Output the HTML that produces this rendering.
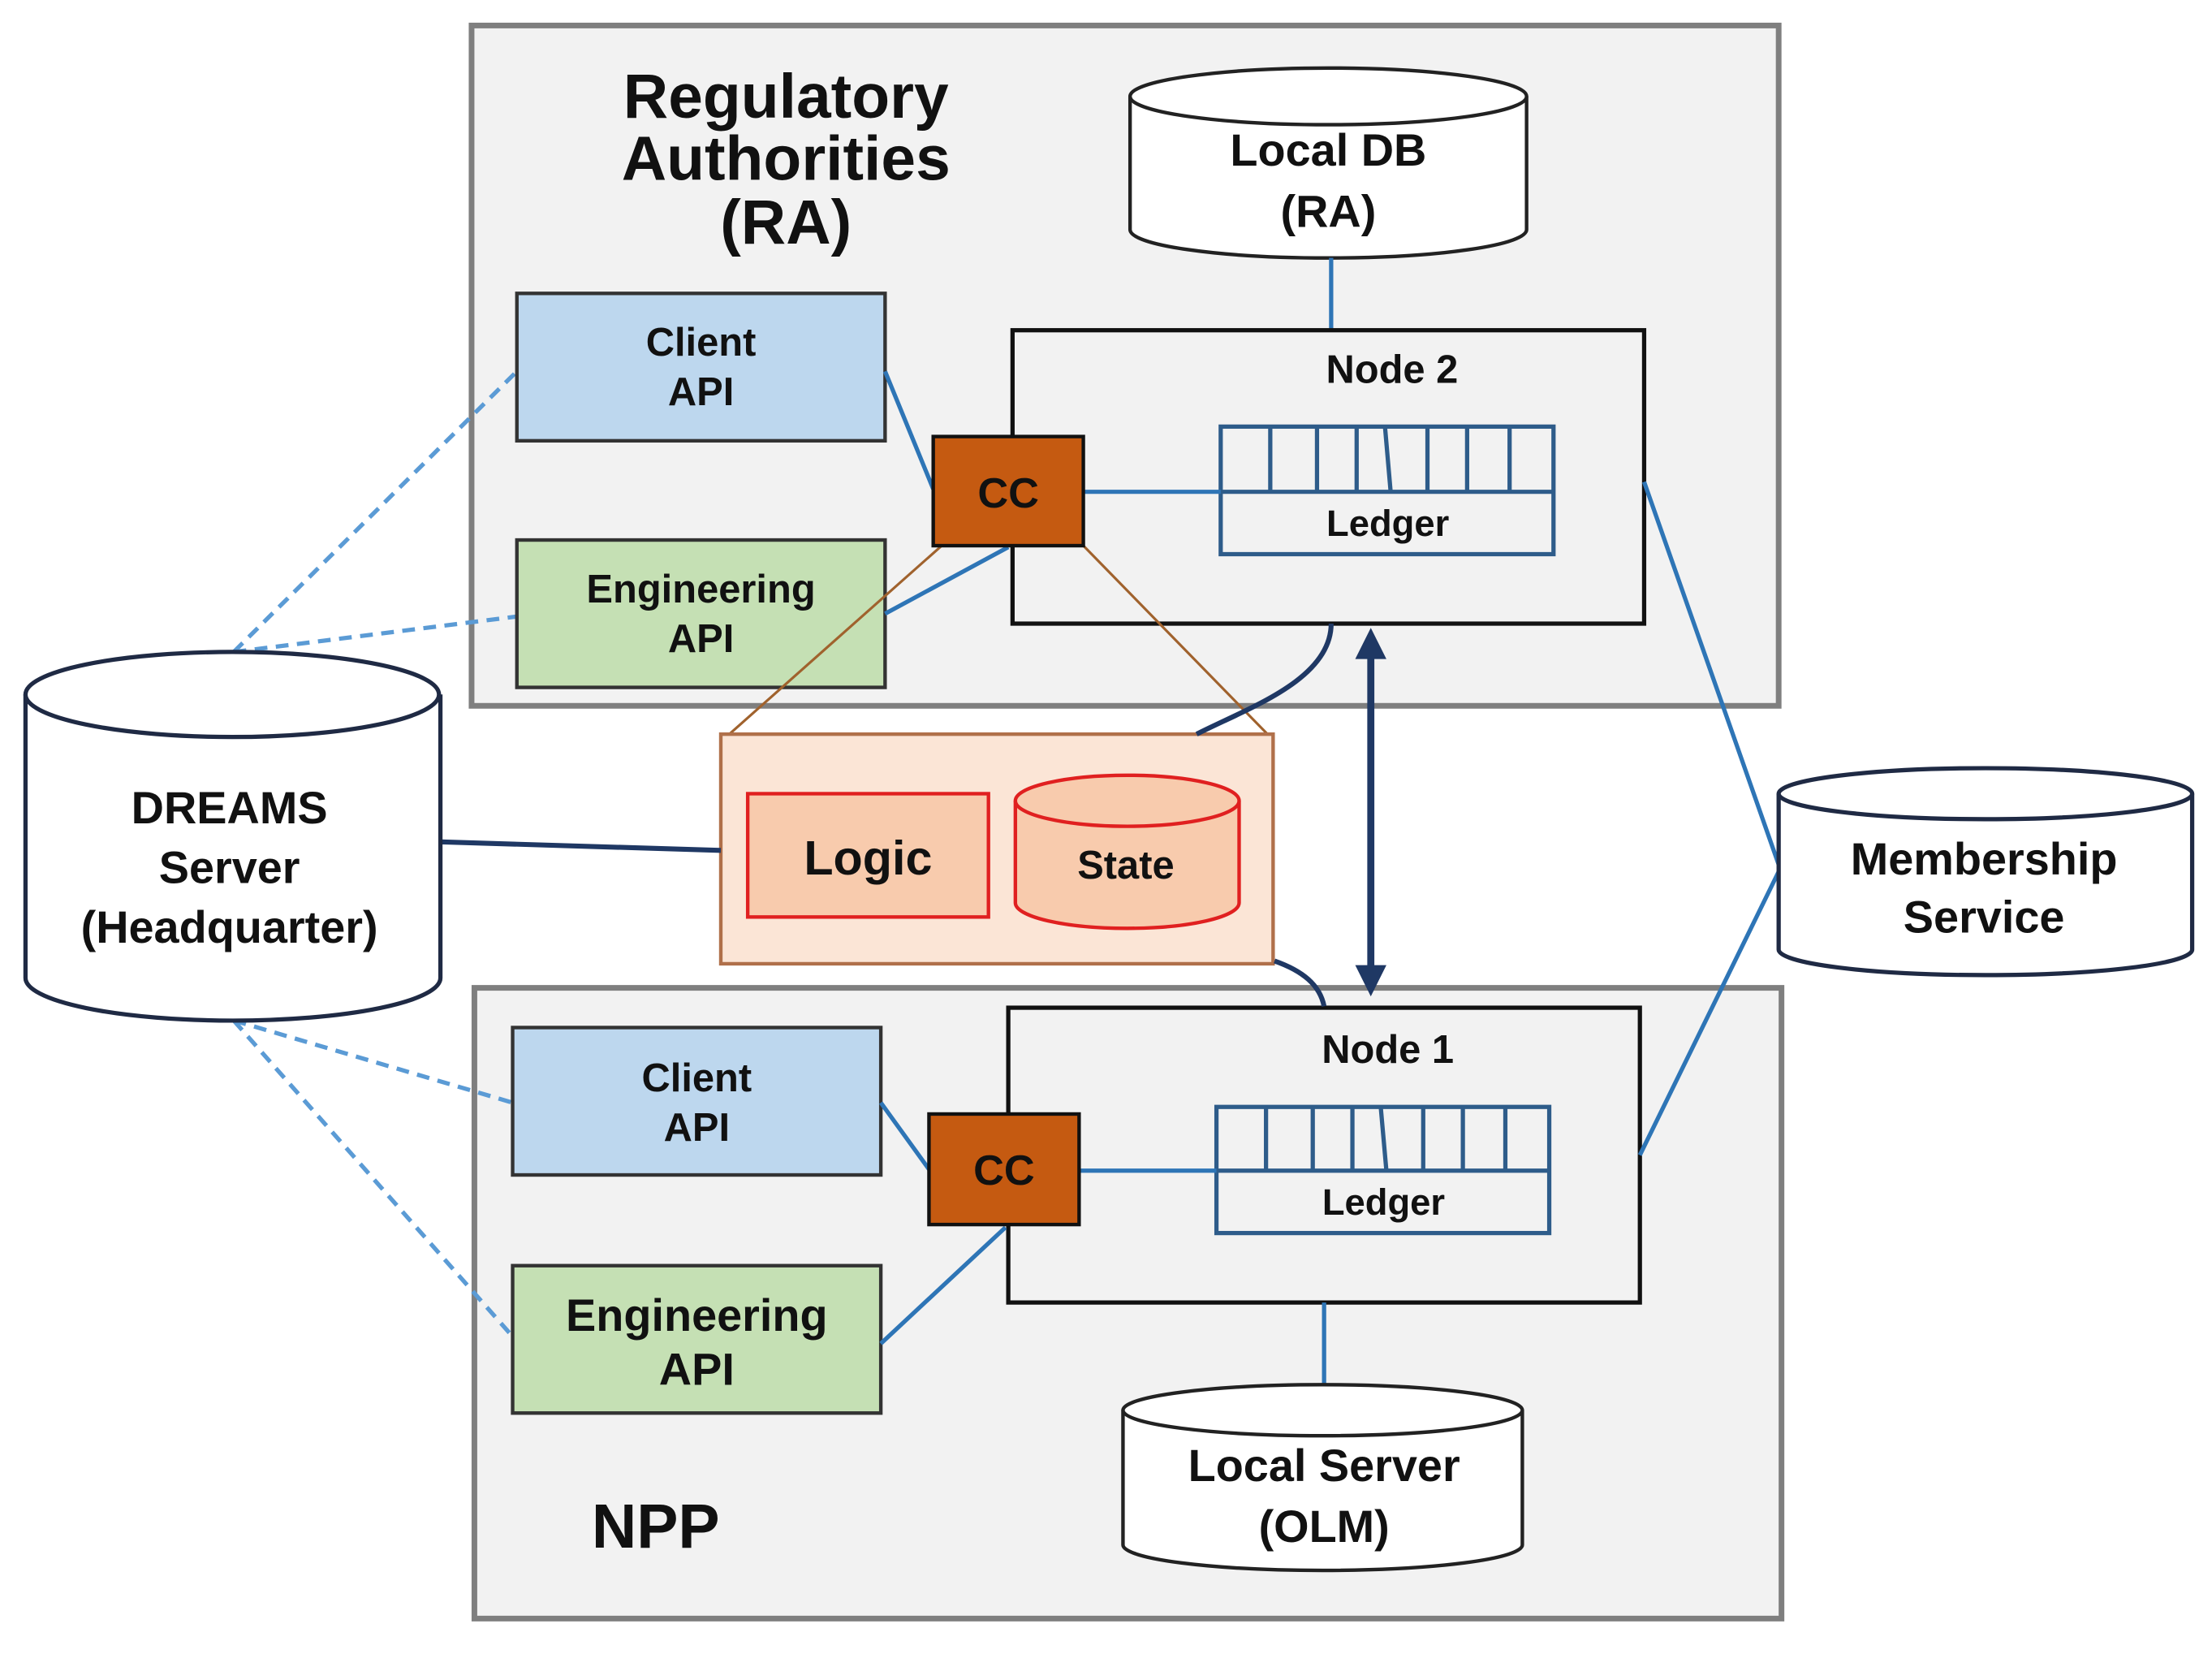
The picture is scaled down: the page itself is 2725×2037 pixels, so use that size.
<!DOCTYPE html>
<html><head><meta charset="utf-8"><style>
html,body{margin:0;padding:0;background:#fff;}
svg{display:block;}
text{font-family:"Liberation Sans",sans-serif;font-weight:bold;text-anchor:middle;fill:#111;}
</style></head><body>
<svg width="2725" height="2037" viewBox="0 0 1562 1167" preserveAspectRatio="none" xmlns="http://www.w3.org/2000/svg">
<rect width="1562" height="1167" fill="#fff"/>
<!-- RA box -->
<rect x="333" y="18" width="923" height="480" fill="#f2f2f2" stroke="#7f7f7f" stroke-width="4"/>
<!-- NPP box -->
<rect x="335" y="697" width="923" height="445" fill="#f2f2f2" stroke="#7f7f7f" stroke-width="4"/>

<text x="555" y="83" font-size="44">Regulatory</text>
<text x="555" y="127" font-size="44">Authorities</text>
<text x="555" y="172" font-size="44">(RA)</text>
<text x="463" y="1092" font-size="44">NPP</text>

<!-- dashed lines -->
<g stroke="#5b9bd5" stroke-width="3" stroke-dasharray="9,6" fill="none">
<line x1="165" y1="460" x2="365" y2="262"/>
<line x1="165" y1="460" x2="365" y2="435"/>
<line x1="165" y1="720" x2="362" y2="778"/>
<line x1="165" y1="720" x2="362" y2="943"/>
</g>

<!-- Local DB -->
<path d="M798 68 V162 A140 20 0 0 0 1078 162 V68" fill="#fff" stroke="#222" stroke-width="2.5"/>
<ellipse cx="938" cy="68" rx="140" ry="20" fill="#fff" stroke="#222" stroke-width="2.5"/>
<text x="938" y="117" font-size="32">Local DB</text>
<text x="938" y="160" font-size="32">(RA)</text>
<line x1="940" y1="182" x2="940" y2="233" stroke="#2e75b6" stroke-width="3"/>

<!-- Node 2 -->
<rect x="715" y="233" width="446" height="207" fill="none" stroke="#111" stroke-width="3"/>
<text x="983" y="270" font-size="28">Node 2</text>
<rect x="862" y="301" width="235" height="90" fill="none" stroke="#2e5c8a" stroke-width="3"/>
<line x1="862" y1="347" x2="1097" y2="347" stroke="#2e5c8a" stroke-width="3"/>
<g stroke="#2e5c8a" stroke-width="3">
<line x1="897" y1="301" x2="897" y2="347"/><line x1="930" y1="301" x2="930" y2="347"/><line x1="958" y1="301" x2="958" y2="347"/><line x1="978" y1="301" x2="982" y2="347"/><line x1="1008" y1="301" x2="1008" y2="347"/><line x1="1036" y1="301" x2="1036" y2="347"/><line x1="1066" y1="301" x2="1066" y2="347"/>
</g>
<text x="980" y="378" font-size="26">Ledger</text>

<!-- Node 1 -->
<rect x="712" y="711" width="446" height="208" fill="none" stroke="#111" stroke-width="3"/>
<text x="980" y="750" font-size="28">Node 1</text>
<rect x="859" y="781" width="235" height="89" fill="none" stroke="#2e5c8a" stroke-width="3"/>
<line x1="859" y1="826" x2="1094" y2="826" stroke="#2e5c8a" stroke-width="3"/>
<g stroke="#2e5c8a" stroke-width="3">
<line x1="894" y1="781" x2="894" y2="826"/><line x1="927" y1="781" x2="927" y2="826"/><line x1="955" y1="781" x2="955" y2="826"/><line x1="975" y1="781" x2="979" y2="826"/><line x1="1005" y1="781" x2="1005" y2="826"/><line x1="1033" y1="781" x2="1033" y2="826"/><line x1="1063" y1="781" x2="1063" y2="826"/>
</g>
<text x="977" y="857" font-size="26">Ledger</text>

<!-- APIs RA -->
<rect x="365" y="207" width="260" height="104" fill="#bdd7ee" stroke="#333" stroke-width="2.5"/>
<text x="495" y="251" font-size="28">Client</text><text x="495" y="286" font-size="28">API</text>
<rect x="365" y="381" width="260" height="104" fill="#c5e0b4" stroke="#333" stroke-width="2.5"/>
<text x="495" y="425" font-size="28">Engineering</text><text x="495" y="460" font-size="28">API</text>
<!-- APIs NPP -->
<rect x="362" y="725" width="260" height="104" fill="#bdd7ee" stroke="#333" stroke-width="2.5"/>
<text x="492" y="770" font-size="28">Client</text><text x="492" y="805" font-size="28">API</text>
<rect x="362" y="893" width="260" height="104" fill="#c5e0b4" stroke="#333" stroke-width="2.5"/>
<text x="492" y="939" font-size="32">Engineering</text><text x="492" y="977" font-size="32">API</text>

<!-- blue connectors -->
<g stroke="#2e75b6" stroke-width="3" fill="none">
<line x1="625" y1="262" x2="659" y2="345"/>
<line x1="625" y1="433" x2="712" y2="386"/>
<line x1="765" y1="347" x2="862" y2="347"/>
<line x1="622" y1="778" x2="656" y2="825"/>
<line x1="622" y1="948" x2="710" y2="866"/>
<line x1="762" y1="826" x2="859" y2="826"/>
<line x1="935" y1="919" x2="935" y2="977"/>
<line x1="1161" y1="340" x2="1256" y2="610"/>
<line x1="1256" y1="615" x2="1158" y2="815"/>
</g>

<!-- brown thin -->
<g stroke="#a0622d" stroke-width="1.8">
<line x1="665" y1="385" x2="515" y2="518"/>
<line x1="765" y1="385" x2="897" y2="520"/>
</g>

<!-- CC -->
<rect x="659" y="308" width="106" height="77" fill="#c55a11" stroke="#111" stroke-width="2.5"/>
<text x="712" y="358" font-size="30">CC</text>
<rect x="656" y="786" width="106" height="78" fill="#c55a11" stroke="#111" stroke-width="2.5"/>
<text x="709" y="836" font-size="30">CC</text>

<!-- chaincode box -->
<rect x="509" y="518" width="390" height="162" fill="#fbe5d6" stroke="#b0704a" stroke-width="2.5"/>
<rect x="528" y="560" width="170" height="87" fill="#f8cbad" stroke="#e02020" stroke-width="2.5"/>
<text x="613" y="617" font-size="34">Logic</text>
<path d="M717 565 V637 A79 18 0 0 0 875 637 V565" fill="#f8cbad" stroke="#e02020" stroke-width="2.5"/>
<ellipse cx="796" cy="565" rx="79" ry="18" fill="#f8cbad" stroke="#e02020" stroke-width="2.5"/>
<text x="795" y="620" font-size="28">State</text>

<!-- navy curves -->
<g stroke="#1f3864" stroke-width="3.5" fill="none">
<path d="M940 440 C940 480 880 500 845 518"/>
<path d="M900 678 C920 685 932 695 935 710"/>
<line x1="311" y1="594" x2="509" y2="600"/>
</g>
<!-- double arrow -->
<line x1="968" y1="458" x2="968" y2="688" stroke="#1f3864" stroke-width="5"/>
<polygon points="968,443 957,465 979,465" fill="#1f3864"/>
<polygon points="968,703 957,681 979,681" fill="#1f3864"/>

<!-- DREAMS -->
<path d="M18 490 V690 A146 30 0 0 0 311 690 V490" fill="#fff" stroke="#1f2a44" stroke-width="3"/>
<ellipse cx="164" cy="490" rx="146" ry="30" fill="#fff" stroke="#1f2a44" stroke-width="3"/>
<text x="162" y="581" font-size="32">DREAMS</text>
<text x="162" y="623" font-size="32">Server</text>
<text x="162" y="665" font-size="32">(Headquarter)</text>

<!-- Membership -->
<path d="M1256 560 V670 A146 18 0 0 0 1548 670 V560" fill="#fff" stroke="#1f2a44" stroke-width="3"/>
<ellipse cx="1402" cy="560" rx="146" ry="18" fill="#fff" stroke="#1f2a44" stroke-width="3"/>
<text x="1401" y="617" font-size="32">Membership</text>
<text x="1401" y="658" font-size="32">Service</text>

<!-- Local Server -->
<path d="M793 995 V1090 A141 18 0 0 0 1075 1090 V995" fill="#fff" stroke="#222" stroke-width="2.5"/>
<ellipse cx="934" cy="995" rx="141" ry="18" fill="#fff" stroke="#222" stroke-width="2.5"/>
<text x="935" y="1045" font-size="32">Local Server</text>
<text x="935" y="1088" font-size="32">(OLM)</text>
</svg>
</body></html>
